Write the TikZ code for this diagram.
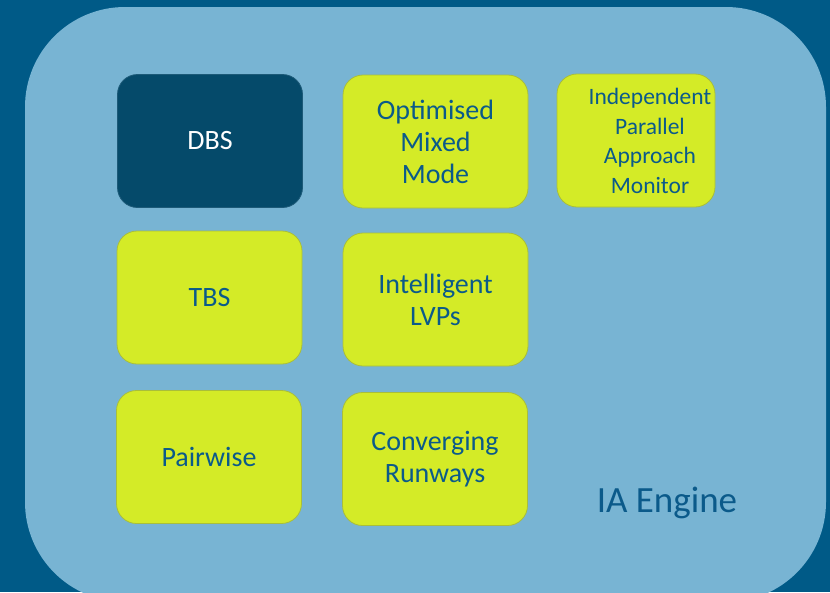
\documentclass[tikz,border=0pt]{standalone}
\usepackage{fontspec}
\setmainfont{Carlito}
\definecolor{pagebg}{HTML}{005A87}
\definecolor{panel}{HTML}{78B4D3}
\definecolor{darkbox}{HTML}{054A6A}
\definecolor{darkedge}{HTML}{1D5A78}
\definecolor{limebox}{HTML}{D4EB27}
\definecolor{limeedge}{HTML}{A9BE3A}
\definecolor{inktext}{HTML}{0B5A8A}
\begin{document}
\begin{tikzpicture}[x=1pt,y=-1pt,
  tile/.style={minimum width=185pt,minimum height=133pt,inner sep=0pt,
    rounded corners=20pt,line width=0.8pt,align=center,
    font=\fontsize{28}{32}\selectfont},
  limetile/.style={tile,fill=limebox,draw=limeedge,text=inktext},
  darktile/.style={tile,fill=darkbox,draw=darkedge,text=white}]
  % page and the engine panel
  \useasboundingbox (0,0) rectangle (830,592);
  \fill[pagebg] (0,0) rectangle (830,592);
  \fill[panel,rounded corners=100pt] (25,7) rectangle (826,602);
  % feature tiles
  \node[darktile] (dbs) at (210,141) {DBS};
  \node[limetile] (omm) at (435.5,141.5) {Optimised\\Mixed\\Mode};
  \node[limetile,minimum width=158pt] (ipam) at (636,140.5) {};
  \node[text=inktext,align=center,inner sep=0pt,
    font=\fontsize{23.5}{29.5}\selectfont] (ipamtext) at (650,141)
    {Independent\\Parallel\\Approach\\Monitor};
  \node[limetile] (tbs) at (209.5,297.5) {TBS};
  \node[limetile] (lvp) at (435.5,299.5) {Intelligent\\LVPs};
  \node[limetile] (pair) at (209,457) {Pairwise};
  \node[limetile] (conv) at (435,459) {Converging\\Runways};
  % panel title
  \node[text=inktext,font=\fontsize{37}{44}\selectfont,inner sep=0pt] (title) at (667,503) {IA Engine};
\end{tikzpicture}
\end{document}
